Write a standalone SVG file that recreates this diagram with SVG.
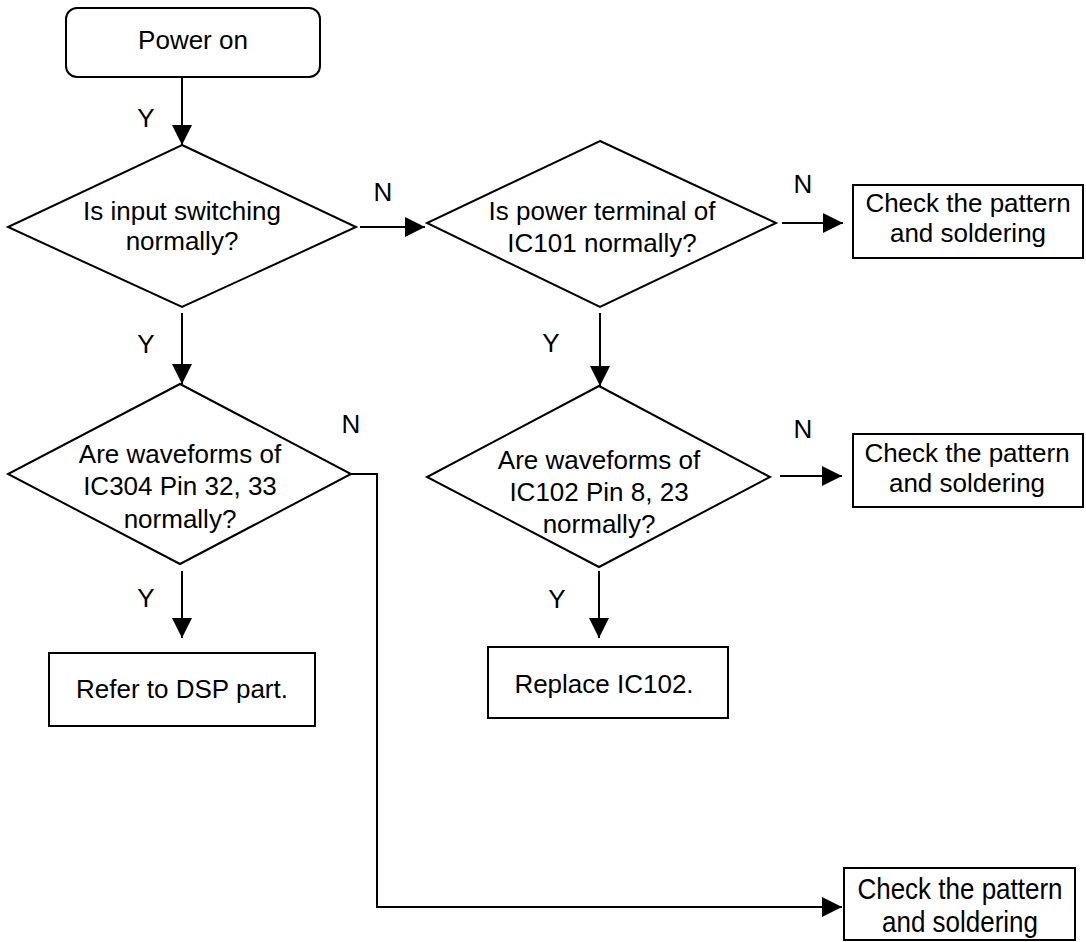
<svg xmlns="http://www.w3.org/2000/svg" width="1086" height="942" viewBox="0 0 1086 942">
  <style>
    .shape { fill: #ffffff; stroke: #000000; stroke-width: 2; }
    .wire { fill: none; stroke: #000000; stroke-width: 2; }
    .label { font-family: "Liberation Sans", Arial, Helvetica, sans-serif; font-size: 26px; fill: #000000; text-anchor: middle; }
  </style>
  <defs>
    <marker id="arrow" markerUnits="userSpaceOnUse" markerWidth="20" markerHeight="20" refX="20" refY="10" orient="auto">
      <path d="M0,0 L20,10 L0,20 Z" fill="#000000"/>
    </marker>
  </defs>

  <rect width="1086" height="942" fill="#ffffff"/>

  <!-- connectors -->
  <g id="connectors">
    <path class="wire" d="M182,78 L182,145" marker-end="url(#arrow)"/>
    <path class="wire" d="M360,227 L425,227" marker-end="url(#arrow)"/>
    <path class="wire" d="M782,223 L843,223" marker-end="url(#arrow)"/>
    <path class="wire" d="M182,313 L182,384" marker-end="url(#arrow)"/>
    <path class="wire" d="M600,313 L600,386" marker-end="url(#arrow)"/>
    <path class="wire" d="M780,476 L842,476" marker-end="url(#arrow)"/>
    <path class="wire" d="M351,474 L377,474 L377,907 L842,907" marker-end="url(#arrow)"/>
    <path class="wire" d="M182,571 L182,638" marker-end="url(#arrow)"/>
    <path class="wire" d="M599,571 L599,638" marker-end="url(#arrow)"/>

    <text class="label" x="146" y="127">Y</text>
    <text class="label" x="383" y="201">N</text>
    <text class="label" x="803" y="193">N</text>
    <text class="label" x="146" y="353">Y</text>
    <text class="label" x="551" y="352">Y</text>
    <text class="label" x="351" y="433">N</text>
    <text class="label" x="803" y="438">N</text>
    <text class="label" x="146" y="607">Y</text>
    <text class="label" x="557" y="608">Y</text>
  </g>

  <!-- start -->
  <g id="power-on">
    <rect class="shape" x="66" y="8" width="254" height="69" rx="11"/>
    <text class="label" x="193" y="49">Power on</text>
  </g>

  <!-- decisions -->
  <g id="input-switching">
    <polygon class="shape" points="182,145 356,227 182,307 8,227"/>
    <text class="label" x="182" y="220">Is input switching</text>
    <text class="label" x="182" y="250">normally?</text>
  </g>

  <g id="ic101-power">
    <polygon class="shape" points="600,141 776,223 600,307 427,223"/>
    <text class="label" x="602" y="220">Is power terminal of</text>
    <text class="label" x="602" y="252">IC101 normally?</text>
  </g>

  <g id="ic304-waveforms">
    <polygon class="shape" points="180,384 351,474 180,564 8,474"/>
    <text class="label" x="180" y="463">Are waveforms of</text>
    <text class="label" x="180" y="495">IC304 Pin 32, 33</text>
    <text class="label" x="180" y="528">normally?</text>
  </g>

  <g id="ic102-waveforms">
    <polygon class="shape" points="599,386 770,477 599,567 427,477"/>
    <text class="label" x="599" y="469">Are waveforms of</text>
    <text class="label" x="599" y="501">IC102 Pin 8, 23</text>
    <text class="label" x="599" y="533">normally?</text>
  </g>

  <!-- actions -->
  <g id="check-1">
    <rect class="shape" x="853" y="185" width="230" height="73"/>
    <text class="label" x="968" y="212">Check the pattern</text>
    <text class="label" x="968" y="242">and soldering</text>
  </g>

  <g id="check-2">
    <rect class="shape" x="853" y="434" width="230" height="73"/>
    <text class="label" x="967" y="462">Check the pattern</text>
    <text class="label" x="967" y="492">and soldering</text>
  </g>

  <g id="check-3">
    <rect class="shape" x="844" y="868" width="231" height="72"/>
    <!-- this box's lettering is drawn slightly taller -->
    <g transform="translate(0,904) scale(1,1.15) translate(0,-904)">
      <text class="label" x="960" y="900">Check the pattern</text>
      <text class="label" x="960" y="928">and soldering</text>
    </g>
  </g>

  <g id="refer-dsp">
    <rect class="shape" x="49" y="653" width="266" height="73"/>
    <text class="label" x="182" y="698">Refer to DSP part.</text>
  </g>

  <g id="replace-ic102">
    <rect class="shape" x="488" y="647" width="240" height="71"/>
    <text class="label" x="604" y="693">Replace IC102.</text>
  </g>
</svg>
